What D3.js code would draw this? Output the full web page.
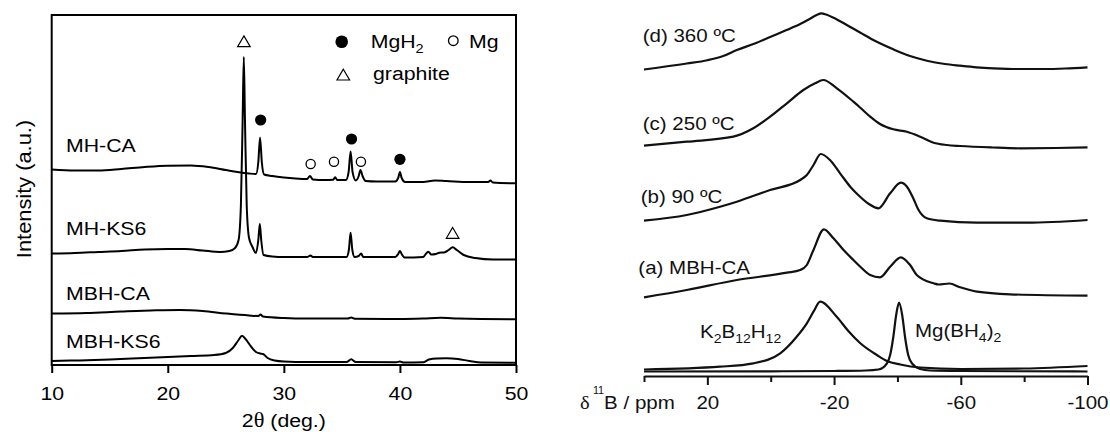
<!DOCTYPE html>
<html>
<head>
<meta charset="utf-8">
<script src="https://cdn.jsdelivr.net/npm/d3@7"></script>
<style>
  html, body { margin: 0; padding: 0; background: #fff; }
  svg { display: block; }
</style>
</head>
<body>
<svg id="chart" width="1110" height="432"></svg>
<script>
// ---------- XRD patterns: [2θ (deg), intensity (a.u., stacked)] ----------
const mhCA = [
  [10,195.5],[12,194.5],[14,194.5],[16,196],[18,198],[20,199.3],[22,199.5],[23.5,198],
  [25,195],[26,193],[27,191.5],[27.6,191],[27.8,203],[27.95,227.5],[28.1,203],[28.3,190.5],
  [29,189],[30,187.5],[31,186.5],[32,186],[32.25,189],[32.5,185.5],[33.5,185],[34.25,185.2],
  [34.42,187.8],[34.6,185],[35.35,185],[35.58,193],[35.75,213.5],[35.92,193],[36.2,184.5],
  [36.45,189],[36.6,195],[36.78,189],[37.05,184],[38,183.5],[39.6,183.5],[39.85,187],
  [40,193],[40.15,187],[40.45,183],[42,183],[43,184.5],[44,184],[46,183],[47.6,183],
  [47.8,184.5],[48,182.5],[50,181.7]
];
const mhKS6 = [
  [10,111.5],[12,112],[14,113],[16,114],[18,115.5],[20,116],[21.5,116],[23,114.5],
  [24.5,113],[25.3,114],[25.8,117],[26.1,125],[26.3,160],[26.45,245],[26.55,308],
  [26.65,245],[26.8,160],[27,127],[27.3,118],[27.6,112],[27.8,125],[27.93,141],[28.05,125],
  [28.25,110],[29,108.5],[30,108],[32,108],[32.3,109.5],[32.5,108],[35.4,108],[35.6,115],
  [35.75,132.3],[35.9,115],[36.1,108],[36.45,109],[36.65,111.5],[36.85,108],[39.6,108],
  [39.85,111],[40,114],[40.15,111],[40.4,107.5],[42,108],[42.3,112],[42.45,113.3],
  [42.7,110.5],[43.1,111],[43.4,112.3],[43.8,112.5],[44.2,115],[44.55,117.7],[44.9,115],
  [45.5,110],[46.5,107],[48,105.5],[50,105.5]
];
const mbhCA = [
  [10,51.5],[13,52],[16,53.5],[19,54.7],[21,55],[23,54],[25,51.5],[27,49.5],[27.8,49],
  [28,50.5],[28.2,48.5],[30,47],[32,46.5],[35.5,46.5],[35.8,47.5],[36.1,46.3],[40,46],
  [42,46.5],[43.5,47.2],[45,46.5],[47,46],[50,45.8]
];
const mbhKS6 = [
  [10,4],[12,4.5],[15,5.5],[18,7],[20,8],[22,9],[24,10],[25,12],[25.6,17],[26.1,25],
  [26.4,29.3],[26.7,26],[27.2,18],[27.6,13],[27.95,11.5],[28.2,11],[28.6,7],[29.2,4.5],
  [30,3.5],[32,3],[35.4,3],[35.8,5.7],[36.2,3],[39.7,2.7],[40,3.5],[40.3,2.6],[42,2.8],
  [42.5,5.5],[43.2,6.5],[44,6.7],[45,6],[46,4],[47,2.5],[50,2.2]
];
const xrdNames = ["MH-CA", "MH-KS6", "MBH-CA", "MBH-KS6"];
const xrdLabelLevel = [213.4, 130, 65, 16.7];
const xrdTicks = [10, 20, 30, 40, 50];

// phase markers: [2θ, marker height]
const mgh2Marks = [[28.0,245],[35.83,226],[40.0,205.7]];
const mgMarks = [[32.31,201],[34.32,203.3],[36.64,203.3]];
const graphiteMarks = [[26.56,323.3],[44.54,131.7]];

// ---------- 11B NMR spectra: [δ (ppm), intensity (a.u., stacked)] ----------
const nmrD = [
  [40,306.5],[26.5,312.5],[20,315.8],[15,320],[10.7,326],[5,332.5],[0,339.3],
  [-5,346],[-9.3,352],[-12,356.5],[-14.5,361],[-16,362.7],[-17.5,361.5],[-20,358],
  [-24,351],[-28.2,343.5],[-33,335],[-38.7,326.7],[-44,320],[-49.3,315.3],[-55,312],
  [-59.8,310.3],[-65,308.7],[-70.3,307.7],[-78,307],[-86,307],[-93,307.5],[-100,308.7]
];
const nmrC = [
  [40,230.3],[26.5,234.3],[11.8,239.3],[5.5,247.7],[0.2,259.3],[-5.1,272.7],[-10.3,286],
  [-14,292.7],[-16.6,296],[-20.9,287.7],[-26.1,274.3],[-28.2,268.5],[-31.4,259.3],
  [-34.5,252],[-38.7,246.7],[-43,244.3],[-47.2,239.3],[-51.4,233.3],[-55.6,231],
  [-59.8,230],[-70,228.5],[-78.8,227.7],[-90,228],[-100,228.7]
];
const nmrB = [
  [40,155.3],[26.5,161],[16,169.3],[10.7,174.3],[0.2,186],[-9.3,196],[-11.4,201],
  [-13.5,211],[-15.8,222],[-18.7,216],[-21.9,202.7],[-25.1,189.3],[-28.2,179.3],
  [-31,172],[-34,167.7],[-37.7,182.7],[-41.1,193.3],[-43,189.3],[-45.1,177],
  [-46.5,167],[-49.3,157.7],[-53.5,155.3],[-65.1,153.3],[-80.9,153.3],[-100,156]
];
const nmrA = [
  [40,78.7],[26.5,86],[10.7,96],[-5.1,103.3],[-9.3,106],[-11.4,111],[-13.5,126],
  [-16.8,146.7],[-19.8,137.7],[-23,126],[-26.1,116],[-28.2,109.5],[-31.4,101],
  [-34.5,98.7],[-37.7,109.3],[-41.1,118.7],[-44,111],[-46.1,101],[-51.4,92.7],
  [-53,91.5],[-56.4,92.5],[-59.8,88.7],[-65.1,84.3],[-75.6,81.7],[-100,80.3]
];
const nmrK2B12H12 = [
  [40,6.5],[16,9.3],[5.5,12.7],[-3,22.7],[-8.2,39.3],[-11.4,52.7],[-13.5,64.3],
  [-15.6,74.3],[-20.9,59],[-24.5,45],[-28.2,33],[-33.5,21],[-36.7,15],[-40.9,11.5],
  [-47.2,8.5],[-60,7],[-80,7.5],[-100,10]
];
const nmrMgBH4 = [
  [40,4.5],[0,4.7],[-20,5],[-30,5.5],[-34,6.5],[-36.7,12.7],[-37.7,21],[-38.7,39],
  [-39.6,61],[-40.5,73.3],[-41.5,61],[-42.4,39],[-43.4,21],[-44.6,12.7],[-47.2,7],
  [-50.3,5.5],[-60,5],[-100,4.5]
];
const nmrTicks = [40, 20, 0, -20, -40, -60, -80, -100];
const nmrLabeledTicks = [20, -20, -60, -100];

const svg = d3.select("#chart");
const SANS = "'Liberation Sans', Arial, Helvetica, sans-serif";
const SERIF = "'Liberation Serif', 'Times New Roman', serif";

// Text helper: glyphs are slightly wide, so each label gets a horizontal stretch.
function addText(parent, x, y, sx, opts = {}) {
  const t = parent.append("text")
    .attr("transform", `translate(${x},${y})${opts.rotate ? ` rotate(${opts.rotate})` : ""} scale(${sx},1)`)
    .attr("font-family", SANS)
    .attr("font-size", opts.size || 19)
    .attr("fill", opts.fill || "#000")
    .attr("text-anchor", opts.anchor || "start");
  return t;
}

// ======================= Left panel: XRD =======================
const L = { left: 51.7, right: 516, top: 15, bottom: 365 };
const xL = d3.scaleLinear().domain([10, 50]).range([L.left, L.right]);
const yL = d3.scaleLinear().domain([0, 350]).range([L.bottom, L.top]);

const gL = svg.append("g");
gL.append("clipPath").attr("id", "clipL").append("rect")
  .attr("x", L.left).attr("y", L.top).attr("width", L.right - L.left).attr("height", L.bottom - L.top);

const lineL = d3.line().x(d => xL(d[0])).y(d => yL(d[1])).curve(d3.curveMonotoneX);
const xrdSeries = [mhCA, mhKS6, mbhCA, mbhKS6];
gL.append("g").attr("clip-path", "url(#clipL)")
  .selectAll("path").data(xrdSeries).join("path")
  .attr("d", lineL)
  .attr("fill", "none").attr("stroke", "#000").attr("stroke-width", 2)
  .attr("stroke-linejoin", "round");

// frame
gL.append("rect")
  .attr("x", L.left).attr("y", L.top).attr("width", L.right - L.left).attr("height", L.bottom - L.top)
  .attr("fill", "none").attr("stroke", "#000").attr("stroke-width", 2);

// x axis
const axL = gL.append("g").attr("transform", `translate(0,${L.bottom})`)
  .call(d3.axisBottom(xL).tickValues(xrdTicks).tickSize(8).tickSizeOuter(0).tickFormat(d3.format("d")));
axL.select(".domain").remove();
axL.selectAll(".tick line").attr("stroke", "#000").attr("stroke-width", 2);
axL.selectAll(".tick text")
  .attr("y", 35).attr("dy", 0)
  .attr("font-family", SANS).attr("font-size", 19).attr("fill", "#000")
  .attr("transform", "scale(1.12,1)");

// axis titles
const xt = addText(gL, xL(30), 427, 1.12, { anchor: "middle" });
xt.append("tspan").text("2");
xt.append("tspan").attr("font-family", SERIF).attr("font-size", 20).text("θ");
xt.append("tspan").text(" (deg.)");
addText(gL, 31, 189, 1.04, { anchor: "middle", rotate: -90, size: 21 }).text("Intensity (a.u.)");

// sample names
xrdNames.forEach((name, i) => {
  addText(gL, 66, yL(xrdLabelLevel[i]), 1.12).text(name);
});

// phase markers
gL.selectAll("circle.mgh2").data(mgh2Marks).join("circle").attr("class", "mgh2")
  .attr("cx", d => xL(d[0])).attr("cy", d => yL(d[1])).attr("r", 5.6).attr("fill", "#000");
gL.selectAll("circle.mg").data(mgMarks).join("circle").attr("class", "mg")
  .attr("cx", d => xL(d[0])).attr("cy", d => yL(d[1])).attr("r", 4.6)
  .attr("fill", "#fff").attr("stroke", "#000").attr("stroke-width", 1.3);
const tri = (cx, cy) => `M${cx},${cy - 5.8}L${cx + 6.3},${cy + 5}L${cx - 6.3},${cy + 5}Z`;
gL.selectAll("path.graphite").data(graphiteMarks).join("path").attr("class", "graphite")
  .attr("d", d => tri(xL(d[0]), yL(d[1])))
  .attr("fill", "#fff").attr("stroke", "#000").attr("stroke-width", 1.2);

// legend
const leg = gL.append("g");
leg.append("circle").attr("cx", 341.7).attr("cy", 41.7).attr("r", 6.3).attr("fill", "#000");
const lt1 = addText(leg, 370.7, 48.3, 1.12);
lt1.append("tspan").text("MgH");
lt1.append("tspan").attr("font-size", 13).attr("dy", 5).text("2");
leg.append("circle").attr("cx", 453.3).attr("cy", 40.7).attr("r", 4.8)
  .attr("fill", "#fff").attr("stroke", "#000").attr("stroke-width", 1.3);
addText(leg, 469, 48.3, 1.12).text("Mg");
leg.append("path").attr("d", tri(343.3, 75)).attr("fill", "#fff").attr("stroke", "#000").attr("stroke-width", 1.2);
addText(leg, 373, 80, 1.12).text("graphite");

// ======================= Right panel: 11B NMR =======================
const R = { left: 644, right: 1087.5, axisY: 376 };
const xR = d3.scaleLinear().domain([40, -100]).range([R.left, R.right]);
const yR = d3.scaleLinear().domain([0, 376]).range([R.axisY, 0]);

const gR = svg.append("g");
const lineR = d3.line().x(d => xR(d[0])).y(d => yR(d[1])).curve(d3.curveMonotoneX);
const nmrSeries = [nmrD, nmrC, nmrB, nmrA, nmrK2B12H12, nmrMgBH4];
gR.append("g").selectAll("path").data(nmrSeries).join("path")
  .attr("d", lineR)
  .attr("fill", "none").attr("stroke", "#111").attr("stroke-width", 2.2)
  .attr("stroke-linejoin", "round");

const axR = gR.append("g").attr("transform", `translate(0,${R.axisY})`)
  .call(d3.axisBottom(xR).tickValues(nmrTicks).tickSizeOuter(0)
    .tickFormat(d => nmrLabeledTicks.includes(d) ? String(d) : ""));
axR.select(".domain").attr("stroke", "#111").attr("stroke-width", 2);
axR.selectAll(".tick line").attr("stroke", "#111").attr("stroke-width", 2)
  .attr("y2", d => nmrLabeledTicks.includes(d) ? 9 : 6);
axR.selectAll(".tick text")
  .attr("y", 33).attr("dy", 0)
  .attr("font-family", SANS).attr("font-size", 19).attr("fill", "#111")
  .attr("transform", "scale(1.08,1)");

// axis title δ¹¹B / ppm
const rt = addText(gR, 580, 409, 1.08, { fill: "#111" });
rt.append("tspan").attr("font-family", SERIF).attr("font-size", 19).text("δ");
rt.append("tspan").attr("font-size", 10).attr("dx", 3).attr("dy", -15).text("11");
rt.append("tspan").attr("dy", 15).text("B / ppm");

// spectrum labels
addText(gR, 642.7, 41.8, 1.08, { fill: "#111" }).text("(d) 360 ºC");
addText(gR, 642.7, 130, 1.08, { fill: "#111" }).text("(c) 250 ºC");
addText(gR, 640.7, 203.3, 1.08, { fill: "#111" }).text("(b) 90 ºC");
addText(gR, 638.3, 274, 1.08, { fill: "#111" }).text("(a) MBH-CA");

const k = addText(gR, 700, 338.3, 1.08, { fill: "#111" });
k.append("tspan").text("K");
k.append("tspan").attr("font-size", 13).attr("dy", 5).text("2");
k.append("tspan").attr("dy", -5).text("B");
k.append("tspan").attr("font-size", 13).attr("dy", 5).text("12");
k.append("tspan").attr("dy", -5).text("H");
k.append("tspan").attr("font-size", 13).attr("dy", 5).text("12");

const m = addText(gR, 915, 336.7, 1.08, { fill: "#111" });
m.append("tspan").text("Mg(BH");
m.append("tspan").attr("font-size", 13).attr("dy", 5).text("4");
m.append("tspan").attr("dy", -5).text(")");
m.append("tspan").attr("font-size", 13).attr("dy", 5).text("2");
</script>
</body>
</html>
